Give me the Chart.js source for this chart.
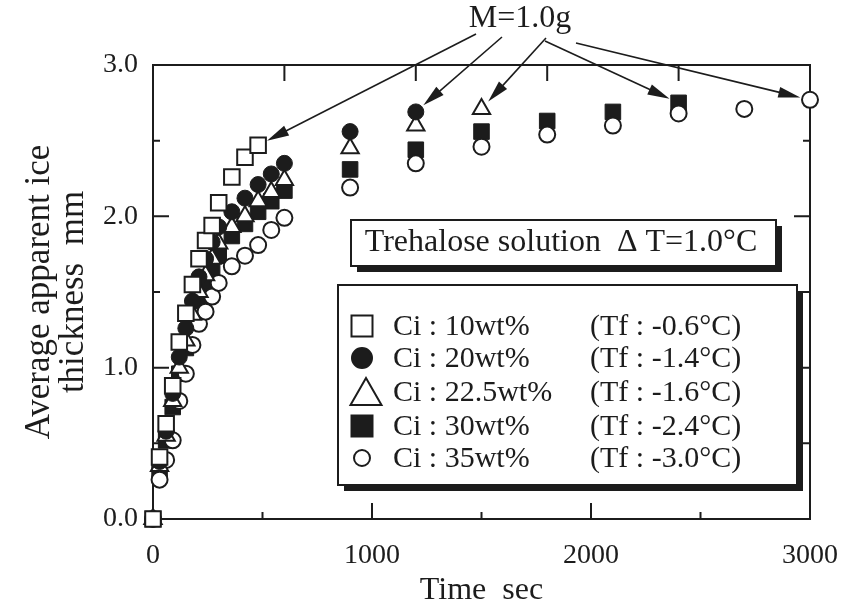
<!DOCTYPE html>
<html lang="en">
<head>
    <meta charset="UTF-8">
    <title>Trehalose solution - ice thickness</title>
    <script src="https://cdn.jsdelivr.net/npm/chart.js@4.4.1/dist/chart.umd.min.js"></script>
    <style>
        body { margin: 0; background: #fff; }
        #wrap { width: 858px; height: 610px; }
    </style>
</head>
<body>
    <div id="wrap"><canvas id="iceChart" width="858" height="610"></canvas></div>

    <script>
        // sampling times (sec)
        const times = [0, 30, 60, 90, 120, 150, 180, 210, 240, 270, 300, 360, 420, 480, 540, 600,
                       900, 1200, 1500, 1800, 2100, 2400, 2700, 3000];

        // average apparent ice thickness (mm)
        const ci10  = [0, 0.41, 0.63, 0.88, 1.17, 1.36, 1.55, 1.72, 1.84, 1.94, 2.09, 2.26, 2.39, 2.47];
        const ci20  = [0, 0.38, 0.58, 0.83, 1.07, 1.26, 1.44, 1.60, 1.72, 1.83, 1.93, 2.03, 2.12, 2.21, 2.28, 2.35,
                       2.56, 2.69];
        const ci225 = [0, 0.35, 0.55, 0.78, 1.00, 1.18, 1.35, 1.50, 1.61, 1.72, 1.82, 1.93, 2.00, 2.10, 2.16, 2.24,
                       2.45, 2.60, 2.71];
        const ci30  = [0, 0.33, 0.52, 0.74, 0.96, 1.13, 1.30, 1.44, 1.55, 1.65, 1.74, 1.87, 1.95, 2.03, 2.10, 2.17,
                       2.31, 2.44, 2.56, 2.63, 2.69, 2.75];
        const ci35  = [0, 0.26, 0.39, 0.52, 0.78, 0.96, 1.15, 1.29, 1.37, 1.47, 1.56, 1.67, 1.74, 1.81, 1.91, 1.99,
                       2.19, 2.35, 2.46, 2.54, 2.60, 2.68, 2.71, 2.77];

        const legendNames = ['Ci : 10wt%', 'Ci : 20wt%', 'Ci : 22.5wt%', 'Ci : 30wt%', 'Ci : 35wt%'];
        const legendTf = ['(Tf : -0.6°C)', '(Tf : -1.4°C)', '(Tf : -1.6°C)', '(Tf : -2.4°C)', '(Tf : -3.0°C)'];

        const xTicks = [0, 1000, 2000, 3000];
        const yTicks = [0, 1, 2, 3];

        const INK = '#1c1c1c';
        const FONT = '"Liberation Serif", "DejaVu Serif", serif';

        function toPoints(vals) {
            return vals.map((v, i) => ({ x: times[i], y: v }));
        }

        // inward ticks and full frame
        const framePlugin = {
            id: 'frame',
            beforeDatasetsDraw(chart) {
                const { ctx, chartArea: a, scales: { x, y } } = chart;
                ctx.save();
                ctx.strokeStyle = INK;
                ctx.lineWidth = 2;
                ctx.strokeRect(a.left, a.top, a.right - a.left, a.bottom - a.top);
                ctx.beginPath();
                for (let v = 500; v < 3000; v += 500) {
                    const px = x.getPixelForValue(v);
                    const len = v % 1000 === 0 ? 16 : 7;
                    ctx.moveTo(px, a.bottom);
                    ctx.lineTo(px, a.bottom - len);
                }
                for (let v = 600; v < 3000; v += 600) {
                    const px = x.getPixelForValue(v);
                    ctx.moveTo(px, a.top);
                    ctx.lineTo(px, a.top + 16);
                }
                for (let v = 0.5; v < 3; v += 0.5) {
                    const py = y.getPixelForValue(v);
                    const len = Math.abs(v - Math.round(v)) < 1e-6 ? 16 : 7;
                    ctx.moveTo(a.left, py);
                    ctx.lineTo(a.left + len, py);
                    ctx.moveTo(a.right, py);
                    ctx.lineTo(a.right - len, py);
                }
                ctx.stroke();
                ctx.restore();
            }
        };

        function shadowBox(ctx, l, t, r, b) {
            ctx.fillStyle = INK;
            ctx.fillRect(l + 6, t + 6, r - l, b - t);
            ctx.fillStyle = '#fff';
            ctx.fillRect(l, t, r - l, b - t);
            ctx.strokeStyle = INK;
            ctx.lineWidth = 2;
            ctx.strokeRect(l, t, r - l, b - t);
        }

        function marker(ctx, kind, cx, cy) {
            ctx.lineWidth = 2;
            ctx.strokeStyle = INK;
            ctx.beginPath();
            if (kind === 'sq' || kind === 'fsq') {
                ctx.rect(cx - 10.5, cy - 10.5, 21, 21);
            } else if (kind === 'fc') {
                ctx.arc(cx, cy, 10, 0, Math.PI * 2);
            } else if (kind === 'oc') {
                ctx.arc(cx, cy, 8, 0, Math.PI * 2);
            } else {
                ctx.moveTo(cx, cy - 14);
                ctx.lineTo(cx + 15.5, cy + 13);
                ctx.lineTo(cx - 15.5, cy + 13);
                ctx.closePath();
            }
            ctx.fillStyle = (kind === 'fc' || kind === 'fsq') ? INK : '#fff';
            ctx.fill();
            ctx.stroke();
        }

        // arrows from the "M=1.0g" label to the last point of each series
        const arrowStarts = [[476, 34], [502, 37], [546, 38], [545, 41], [576, 43]];

        const notesPlugin = {
            id: 'notes',
            afterDraw(chart) {
                const { ctx } = chart;
                ctx.save();

                // M=1.0g label and arrows
                ctx.fillStyle = INK;
                ctx.font = '32px ' + FONT;
                ctx.textAlign = 'center';
                ctx.textBaseline = 'middle';
                ctx.fillText('M=1.0g', 520, 19);

                chart.data.datasets.forEach((ds, i) => {
                    const meta = chart.getDatasetMeta(i);
                    const last = meta.data[meta.data.length - 1];
                    const [sx, sy] = arrowStarts[i];
                    const dx = sx - last.x, dy = sy - last.y;
                    const d = Math.hypot(dx, dy);
                    const ux = dx / d, uy = dy / d;
                    const tx = last.x + ux * 10, ty = last.y + uy * 10;
                    ctx.strokeStyle = INK;
                    ctx.lineWidth = 1.6;
                    ctx.beginPath();
                    ctx.moveTo(sx, sy);
                    ctx.lineTo(tx + ux * 14, ty + uy * 14);
                    ctx.stroke();
                    const bx = tx + ux * 22, by = ty + uy * 22;
                    ctx.beginPath();
                    ctx.moveTo(tx, ty);
                    ctx.lineTo(bx - uy * 5.5, by + ux * 5.5);
                    ctx.lineTo(bx + uy * 5.5, by - ux * 5.5);
                    ctx.closePath();
                    ctx.fillStyle = INK;
                    ctx.fill();
                });

                // condition box
                shadowBox(ctx, 351, 220, 776, 266);
                ctx.fillStyle = INK;
                ctx.font = '32px ' + FONT;
                ctx.textAlign = 'center';
                ctx.fillText('Trehalose solution  \u0394 T=1.0°C', 561, 243);

                // legend box
                shadowBox(ctx, 338, 285, 797, 485);
                const kinds = ['sq', 'fc', 'tri', 'fsq', 'oc'];
                const rows = [326, 358, 392, 426, 458];
                ctx.font = '30px ' + FONT;
                ctx.textAlign = 'left';
                rows.forEach((ry, i) => {
                    marker(ctx, kinds[i], kinds[i] === 'tri' ? 366 : 362, ry);
                    ctx.fillStyle = INK;
                    ctx.fillText(legendNames[i], 393, ry + 1);
                    ctx.fillText(legendTf[i], 590, ry + 1);
                });
                ctx.restore();
            }
        };

        function createChart() {
            const ctx = document.getElementById('iceChart').getContext('2d');
            new Chart(ctx, {
                type: 'scatter',
                data: {
                    datasets: [
                        { label: legendNames[0], data: toPoints(ci10), pointStyle: 'rect', pointRadius: 11,
                          backgroundColor: '#fff', borderColor: INK, borderWidth: 2, order: 0 },
                        { label: legendNames[1], data: toPoints(ci20), pointStyle: 'circle', pointRadius: 8,
                          backgroundColor: INK, borderColor: INK, borderWidth: 1, order: 1 },
                        { label: legendNames[2], data: toPoints(ci225), pointStyle: 'triangle', pointRadius: 10,
                          backgroundColor: '#fff', borderColor: INK, borderWidth: 2, order: 2 },
                        { label: legendNames[3], data: toPoints(ci30), pointStyle: 'rect', pointRadius: 11,
                          backgroundColor: INK, borderColor: INK, borderWidth: 1, order: 4 },
                        { label: legendNames[4], data: toPoints(ci35), pointStyle: 'circle', pointRadius: 8,
                          backgroundColor: '#fff', borderColor: INK, borderWidth: 2, order: 3 }
                    ]
                },
                options: {
                    responsive: false,
                    animation: false,
                    devicePixelRatio: 1,
                    layout: { padding: { top: 65, right: 31, left: 0, bottom: 0 } },
                    datasets: { scatter: { clip: false } },
                    plugins: {
                        legend: { display: false },
                        tooltip: { enabled: false }
                    },
                    scales: {
                        x: {
                            type: 'linear',
                            min: 0,
                            max: 3000,
                            afterBuildTicks: (s) => { s.ticks = xTicks.map(v => ({ value: v })); },
                            afterFit: (s) => { s.height = 91; },
                            grid: { display: false, drawTicks: false },
                            border: { display: false },
                            ticks: {
                                color: INK,
                                padding: 20,
                                maxRotation: 0,
                                font: { family: FONT, size: 28 },
                                callback: (v) => String(v)
                            },
                            title: {
                                display: true,
                                text: 'Time  sec',
                                color: INK,
                                padding: { top: 0, bottom: 0 },
                                font: { family: FONT, size: 32 }
                            }
                        },
                        y: {
                            min: 0,
                            max: 3,
                            afterBuildTicks: (s) => { s.ticks = yTicks.map(v => ({ value: v })); },
                            afterFit: (s) => { s.width = 153; },
                            grid: { display: false, drawTicks: false },
                            border: { display: false },
                            ticks: {
                                color: INK,
                                padding: 15,
                                font: { family: FONT, size: 28 },
                                callback: (v) => Number(v).toFixed(1)
                            },
                            title: {
                                display: true,
                                text: ['Average apparent ice', 'thickness  mm'],
                                color: INK,
                                padding: { top: 23, bottom: 0 },
                                font: { family: FONT, size: 35, lineHeight: '34px' }
                            }
                        }
                    }
                },
                plugins: [framePlugin, notesPlugin]
            });
        }

        window.onload = createChart;
    </script>
</body>
</html>
